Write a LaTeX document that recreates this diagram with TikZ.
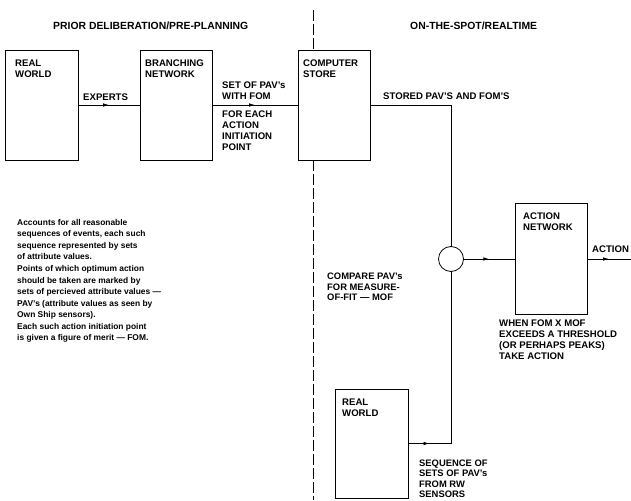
\documentclass[tikz,border=0pt]{standalone}
\usepackage{fontspec}
\setmainfont{Liberation Sans}
\usetikzlibrary{arrows.meta,decorations.markings}

\tikzset{
  box/.style={draw, line width=0.9pt, inner sep=0pt, outer sep=0pt},
  lbl/.style={anchor=north west, inner sep=0pt, align=left,
              font=\fontsize{9.6}{11}\selectfont\bfseries},
  tightlbl/.style={lbl, font=\fontsize{9.4}{10.5}\selectfont\bfseries},
  hdr/.style={anchor=north west, inner sep=0pt,
              font=\fontsize{10.4}{12}\selectfont\bfseries},
  note/.style={anchor=north west, inner sep=0pt, align=left,
               font=\fontsize{8.4}{11.55}\selectfont\bfseries},
  wire/.style={line width=0.8pt},
  midarrow/.style={wire, postaction={decorate}, decoration={markings,
      mark=at position 0.5 with {\arrow{Latex[length=6pt,width=3.6pt]}}}},
  divider/.style={line width=0.8pt, dash pattern=on 11pt off 3pt},
}

\begin{document}
\begin{tikzpicture}[x=1pt, y=-1pt]
  \useasboundingbox (0,0) rectangle (631,500);

  % column headings
  \node[hdr] (hpre) at (53,21.5) {PRIOR DELIBERATION/PRE-PLANNING};
  \node[hdr] (hrt)  at (410,21.5) {ON-THE-SPOT/REALTIME};

  % planning chain
  \node[box, minimum width=73pt, minimum height=110pt] (rwa) at (41.5,105) {};
  \node[lbl] (rwatext) at (15,59.3) {REAL\\WORLD};
  \node[box, minimum width=72pt, minimum height=110pt] (bn) at (176,105) {};
  \node[lbl] (bntext) at (145,59.3) {BRANCHING\\NETWORK};
  \node[box, minimum width=72pt, minimum height=110pt] (cs) at (334,105) {};
  \node[lbl] (cstext) at (303,59.3) {COMPUTER\\STORE};

  \draw[midarrow] (rwa.east) -- (bn.west);
  \node[lbl] (experts) at (83,94) {EXPERTS};
  \draw[midarrow] (bn.east) -- (cs.west);
  \node[lbl] (setpav) at (222,82) {SET OF PAV’s\\WITH FOM};
  \node[lbl] (foreach) at (222,111) {FOR EACH\\ACTION\\INITIATION\\POINT};

  % divider between the two phases
  \coordinate (dtop) at (313,10);
  \coordinate (dbot) at (313,500);
  \draw[divider] (dtop) -- (dtop |- cs.north);
  \draw[divider] (dtop |- cs.south) -- (dbot);

  % explanatory note
  \node[note] (expl) at (17,219) {Accounts for all reasonable\\
    sequences of events, each such\\
    sequence represented by sets\\
    of attribute values.\\
    Points of which optimum action\\
    should be taken are marked by\\
    sets of percieved attribute values —\\
    PAV’s (attribute values as seen by\\
    Own Ship sensors).\\
    Each such action initiation point\\
    is given a figure of merit — FOM.};

  % realtime comparison
  \node[draw, circle, line width=0.8pt, minimum size=25pt, inner sep=0pt, outer sep=0pt]
    (cmp) at (451,259) {};
  \draw[wire] (cs.east) -| (cmp.north);
  \node[lbl] (stored) at (383,93) {STORED PAV’S AND FOM’S};
  \node[tightlbl] (compare) at (327,273) {COMPARE PAV’s\\FOR MEASURE-\\OF-FIT — MOF};

  \node[box, minimum width=72pt, minimum height=111pt] (an) at (551,259) {};
  \node[lbl] (antext) at (523,213) {ACTION\\NETWORK};
  \draw[midarrow] (cmp.east) -- (an.west);
  \coordinate (actout) at (631,259);
  \draw[midarrow] (an.east) -- (actout);
  \node[lbl] (action) at (592,246) {ACTION};
  \node[lbl] (when) at (499,320) {WHEN FOM X MOF\\EXCEEDS A THRESHOLD\\(OR PERHAPS PEAKS)\\TAKE ACTION};

  % sensed real world
  \node[box, minimum width=73pt, minimum height=109pt] (rwb) at (371.5,443.5) {};
  \node[lbl] (rwbtext) at (342,399) {REAL\\WORLD};
  \coordinate (rwjoin) at (rwb.east -| cmp.south);
  \draw[midarrow] (rwb.east) -- (rwjoin);
  \draw[wire] (rwjoin) -- (cmp.south);
  \node[tightlbl] (seq) at (419,459.5) {SEQUENCE OF\\SETS OF PAV’s\\FROM RW\\SENSORS};
\end{tikzpicture}
\end{document}
